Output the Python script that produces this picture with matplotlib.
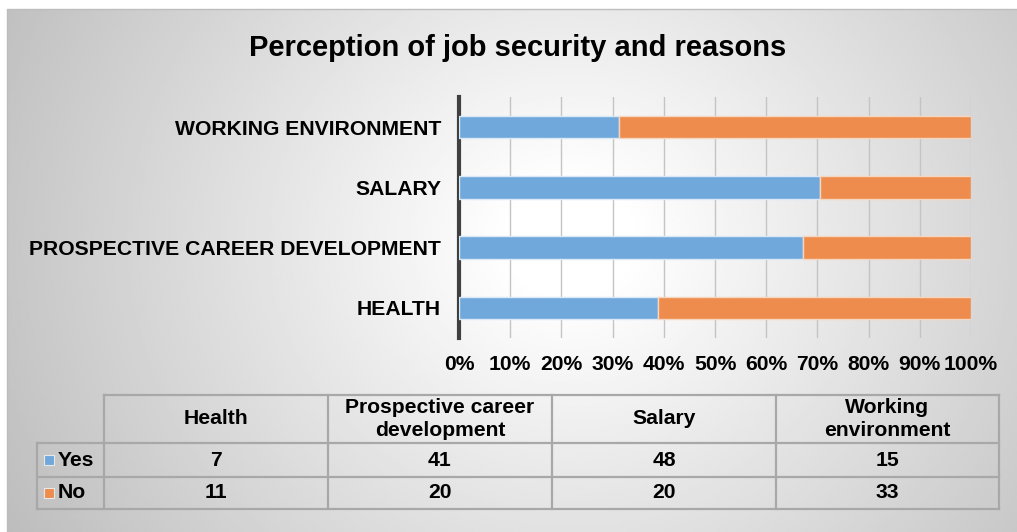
import numpy as np
import matplotlib
matplotlib.use("Agg")
import matplotlib.pyplot as plt
from matplotlib.ticker import PercentFormatter

plt.rcParams["font.family"] = ["Liberation Sans", "DejaVu Sans"]

# data
categories = ["Health", "Prospective career development", "Salary", "Working environment"]
header_labels = ["Health", "Prospective career\ndevelopment", "Salary", "Working\nenvironment"]
series_names = ["Yes", "No"]
yes = [7, 41, 48, 15]
no = [11, 20, 20, 33]
x_ticks = [0, 10, 20, 30, 40, 50, 60, 70, 80, 90, 100]

BLUE = "#70a8db"
ORANGE = "#ed8c4d"
LINE = "#a8a8a8"
FS = 15.2
W, H = 1017, 532

fig = plt.figure(figsize=(W / 100, H / 100), dpi=100)
fig.patch.set_facecolor("white")

# full-figure overlay in pixel coordinates
bg = fig.add_axes([0, 0, 1, 1])
bg.set_xlim(0, W)
bg.set_ylim(H, 0)
bg.axis("off")

# radial grey gradient panel
px0, py0, px1, py1 = 7, 9, W, H
xx, yy = np.meshgrid(np.linspace(px0, px1, 400), np.linspace(py0, py1, 220))
r = np.hypot(xx - 570, (yy - 240) * 1.1)
v = 1 - 0.22 * np.clip((r - 60) / 500, 0, 1.2)
bg.imshow(v, cmap="gray", vmin=0, vmax=1, extent=[px0, px1, py1, py0],
          aspect="auto", interpolation="bilinear", zorder=0)
bg.plot([px0, px0, px1], [py1, py0, py0], color="#bdbdbd", lw=1, zorder=1)
bg.set_xlim(0, W)
bg.set_ylim(H, 0)

bg.text(518, 48, "Perception of job security and reasons", ha="center", va="center",
        fontsize=21, fontweight="bold", zorder=3)

# stacked 100% bars
totals = np.array(yes) + np.array(no)
yes_pct = np.array(yes) / totals * 100
no_pct = np.array(no) / totals * 100

ax = fig.add_axes([459 / W, 1 - 338 / H, (971 - 459) / W, 241 / H])
ax.patch.set_alpha(0)
ypos = np.arange(len(categories))
ax.barh(ypos, yes_pct, height=0.37, color=BLUE, edgecolor="#dbe8f5", lw=1, zorder=3)
ax.barh(ypos, no_pct, left=yes_pct, height=0.37, color=ORANGE, edgecolor="#f6d6c0",
        lw=1, zorder=3)
ax.set_xlim(0, 100)
ax.set_ylim(-0.5, len(categories) - 0.5)
ax.set_xticks(x_ticks)
ax.xaxis.set_major_formatter(PercentFormatter(decimals=0))
ax.set_yticks(ypos)
ax.set_yticklabels([c.upper() for c in categories])
ax.grid(axis="x", color="#c4c4c4", lw=1, zorder=0)
ax.tick_params(axis="x", length=0, pad=12, labelsize=FS)
ax.tick_params(axis="y", length=0, pad=13, labelsize=FS)
for lab in ax.get_xticklabels() + ax.get_yticklabels():
    lab.set_fontweight("bold")
for s in ["top", "right", "bottom"]:
    ax.spines[s].set_visible(False)
ax.spines["left"].set_color("#404040")
ax.spines["left"].set_linewidth(3)

# data table below the chart
col_x = [37, 104, 328, 552, 776, 999]
row_y = [395, 443, 477, 509]
lk = dict(color=LINE, lw=1.6, zorder=2)
bg.plot([col_x[1], col_x[-1]], [row_y[0], row_y[0]], **lk)
for yv in row_y[1:]:
    bg.plot([col_x[0], col_x[-1]], [yv, yv], **lk)
bg.plot([col_x[0], col_x[0]], [row_y[1], row_y[-1]], **lk)
for xv in col_x[1:]:
    bg.plot([xv, xv], [row_y[0], row_y[-1]], **lk)

for i, lab in enumerate(header_labels):
    cx = (col_x[i + 1] + col_x[i + 2]) / 2
    bg.text(cx, (row_y[0] + row_y[1]) / 2, lab, ha="center", va="center",
            fontsize=FS, fontweight="bold", linespacing=1.25, zorder=3)

for j, (name, vals, col) in enumerate(zip(series_names, [yes, no], [BLUE, ORANGE])):
    cy = (row_y[j + 1] + row_y[j + 2]) / 2
    bg.scatter([49], [cy], marker="s", s=56, color=col, edgecolor="#e8e8e8",
               lw=0.8, zorder=3)
    bg.text(58, cy, name, ha="left", va="center", fontsize=FS,
            fontweight="bold", zorder=3)
    for i, val in enumerate(vals):
        cx = (col_x[i + 1] + col_x[i + 2]) / 2
        bg.text(cx, cy, str(val), ha="center", va="center", fontsize=FS,
                fontweight="bold", zorder=3)

fig.savefig("out.png", dpi=100)
